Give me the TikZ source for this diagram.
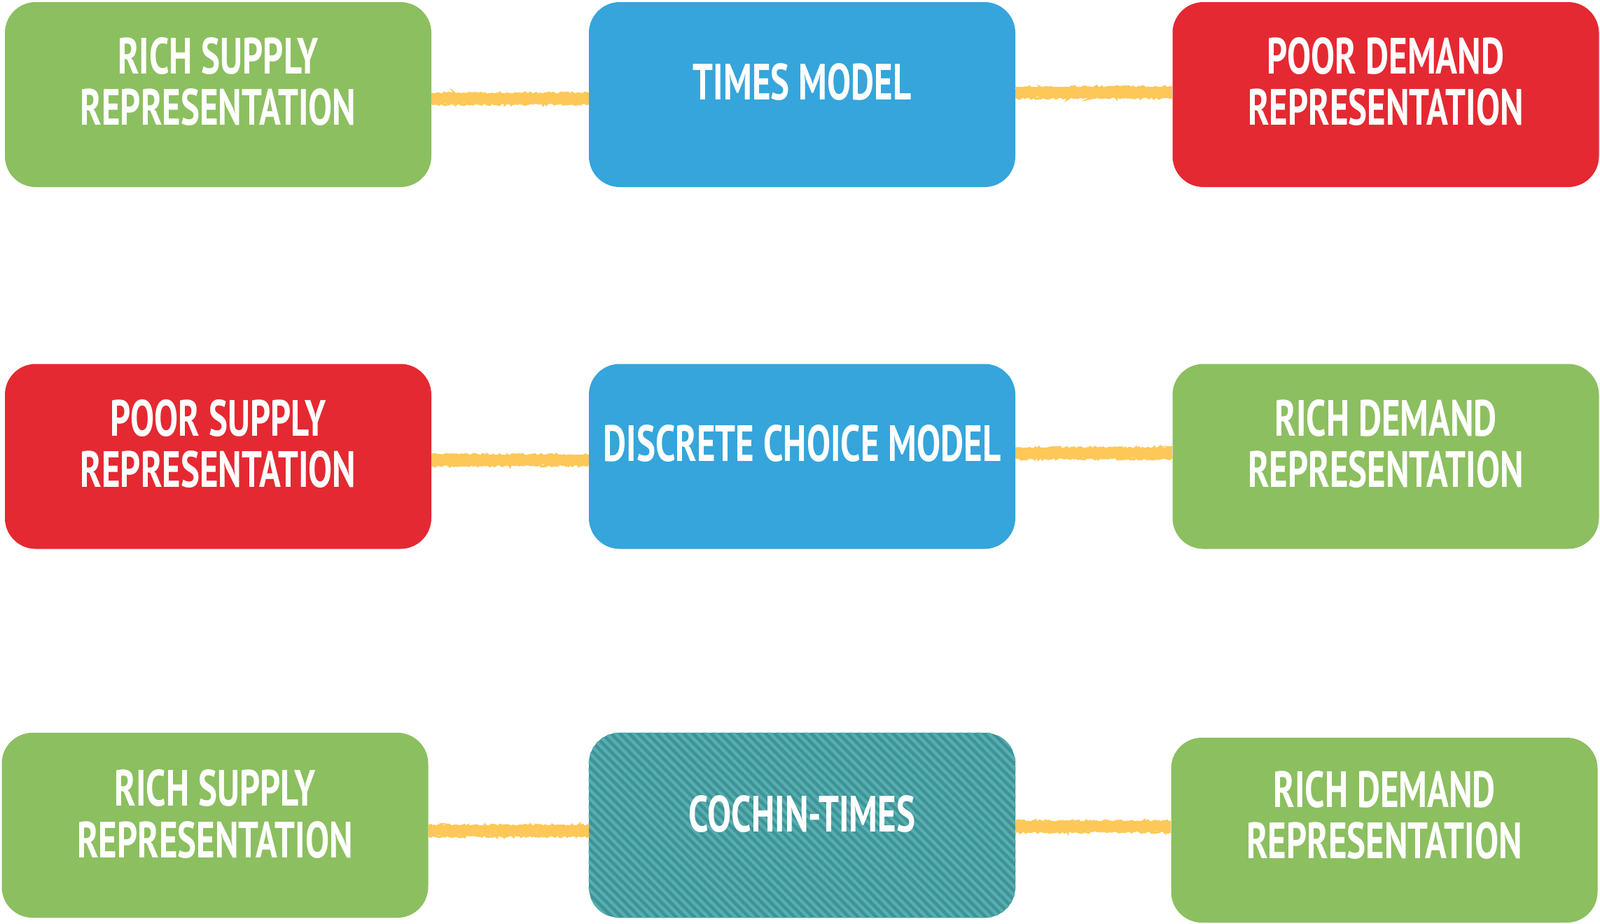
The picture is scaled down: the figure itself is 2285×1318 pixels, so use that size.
\documentclass[tikz,border=0pt]{standalone}
\usepackage{fontspec}
\setmainfont{PT Sans}[FakeStretch=0.70]
\usetikzlibrary{calc,decorations.pathmorphing}
\definecolor{cgreen}{HTML}{8CBF60}
\definecolor{cblue}{HTML}{35A5DB}
\definecolor{cred}{HTML}{E42932}
\definecolor{cyel}{HTML}{FDC858}
\definecolor{cteal}{HTML}{3E9396}
\definecolor{cteallight}{HTML}{56AEB0}
\tikzset{
  box/.style={rectangle, rounded corners=22pt, minimum width=304.5pt, minimum height=132pt, inner sep=0pt, draw=none},
  txt/.style={text=white, align=center, inner sep=0pt, font=\bfseries\fontsize{36.4}{36.5}\selectfont},
  yline/.style={draw=cyel, line width=7pt},
  yrough/.style={draw=cyel, line width=1.6pt, decorate, decoration={random steps, segment length=1.2pt, amplitude=0.9pt}},
  stripe/.style={draw=cteallight, line width=2.2pt}
}
\newcommand{\conn}[3]{%
  \coordinate (cs) at ($(#1.east)+(0,#3)$);
  \coordinate (ca) at ($(cs)+(0,-6)$);
  \coordinate (cb) at ($(cs)+(0,6)$);
  \coordinate (cc) at ($(cs)+(0,8)$);
  \draw[yline] (cs) -- (cs -| #2.west);
  \draw[yrough] (ca) -- (ca -| #2.west);
  \draw[yrough] (cb) -- (cb -| #2.west);
  \draw[yrough] (cc) -- (cc -| #2.west);
}
\begin{document}
\begin{tikzpicture}[x=0.5pt,y=-0.5pt]
\useasboundingbox (0,0) rectangle (2285,1318);
% row 1
\node[box, fill=cgreen] (rs1) at (311.5,135) {};
\node[box, fill=cblue] (tm) at (1145.5,135) {};
\node[box, fill=cred] (pd1) at (1979,135) {};
% row 2
\node[box, fill=cred] (ps2) at (311.5,651.5) {};
\node[box, fill=cblue] (dcm) at (1145.5,651.5) {};
\node[box, fill=cgreen] (rd2) at (1979,651.5) {};
% row 3
\node[box, fill=cgreen] (rs3) at (307,1178) {};
\node[box, fill=cteal] (ct) at (1145.5,1178) {};
\node[box, fill=cgreen] (rd3) at (1977,1185) {};
% stripes
\begin{scope}
\clip[rounded corners=22pt] (ct.south west) rectangle (ct.north east);
\foreach \i in {-280,-267,...,620}
  \draw[stripe] ($(ct.north west)+(\i,-5)$) -- ++(280,280);
\end{scope}
% connectors
\conn{rs1}{tm}{5}
\conn{tm}{pd1}{-4}
\conn{ps2}{dcm}{4.5}
\conn{dcm}{rd2}{-5.5}
\conn{rs3}{ct}{7}
\conn{ct}{rd3}{1}
% texts
\node[txt] (t1) at ($(rs1.center)+(0,-18)$) {RICH SUPPLY\\REPRESENTATION};
\node[txt] (t2) at ($(tm.center)+(0,-18)$) {TIMES MODEL};
\node[txt] (t3) at ($(pd1.center)+(0,-18)$) {POOR DEMAND\\REPRESENTATION};
\node[txt] (t4) at ($(ps2.center)+(0,-18)$) {POOR SUPPLY\\REPRESENTATION};
\node[txt] (t5) at ($(dcm.center)+(0,-18)$) {DISCRETE CHOICE MODEL};
\node[txt] (t6) at ($(rd2.center)+(0,-18)$) {RICH DEMAND\\REPRESENTATION};
\node[txt] (t7) at ($(rs3.center)+(0,-16)$) {RICH SUPPLY\\REPRESENTATION};
\node[txt] (t8) at ($(ct.center)+(0,-16)$) {COCHIN-TIMES};
\node[txt] (t9) at ($(rd3.center)+(0,-22)$) {RICH DEMAND\\REPRESENTATION};
\end{tikzpicture}
\end{document}
